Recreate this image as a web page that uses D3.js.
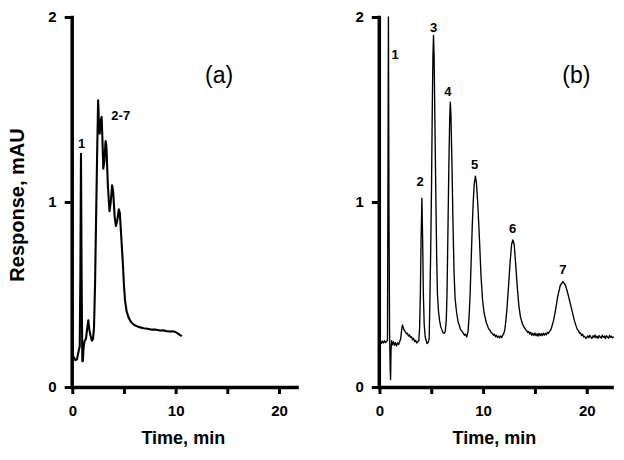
<!DOCTYPE html>
<html><head><meta charset="utf-8">
<script src="https://cdn.jsdelivr.net/npm/d3@7"></script>
<style>body{margin:0;background:#fff} text{font-family:"Liberation Sans",Arial,Helvetica,sans-serif}</style>
</head><body><svg id="c" width="624" height="460"></svg>
<script>
// ---- data ----
const yTicks = [0, 1, 2];
const yTickLabels = ["0", "1", "2"];
const xTicks = [0, 5, 10, 15, 20];
const xTickLabels = ["0", "", "10", "", "20"];
const xTitle = "Time, min";
const yTitle = "Response, mAU";
const panelTags = ["(a)", "(b)"];

// panel (a) chromatogram [time min, response mAU]
const traceA = [
 [0.02,0.17],[0.15,0.16],[0.3,0.145],[0.45,0.15],[0.6,0.19],[0.72,0.22],[0.78,0.6],[0.84,1.26],[0.9,0.6],
 [0.97,0.14],[1.02,0.14],[1.1,0.22],[1.2,0.25],[1.32,0.26],[1.45,0.32],[1.55,0.36],[1.65,0.31],[1.75,0.28],
 [1.9,0.25],[2.0,0.26],[2.1,0.32],[2.2,0.55],[2.3,0.9],[2.4,1.25],[2.5,1.55],[2.58,1.42],[2.65,1.37],
 [2.75,1.44],[2.84,1.46],[2.92,1.33],[3.0,1.18],[3.1,1.22],[3.22,1.33],[3.3,1.3],[3.45,1.08],[3.6,0.95],
 [3.72,1.0],[3.85,1.09],[3.95,1.06],[4.1,0.92],[4.22,0.87],[4.35,0.9],[4.5,0.96],[4.6,0.94],[4.75,0.8],
 [4.9,0.66],[5.0,0.55],[5.1,0.47],[5.25,0.41],[5.45,0.375],[5.7,0.35],[6.0,0.335],[6.4,0.325],[6.9,0.318],
 [7.3,0.315],[7.7,0.31],[8.1,0.31],[8.5,0.305],[8.8,0.306],[9.1,0.302],[9.4,0.3],[9.7,0.301],[10.0,0.297],
 [10.2,0.29],[10.4,0.282],[10.6,0.275]
];

// panel (b) chromatogram [time min, response mAU]
const traceB = [
 [0.0,0.24],[0.1,0.25],[0.2,0.235],[0.3,0.248],[0.4,0.238],[0.5,0.25],[0.6,0.24],[0.7,0.247],[0.78,0.25],
 [0.83,1.2],[0.87,2.0],[0.92,1.0],[0.98,0.3],[1.04,0.1],[1.08,0.04],[1.12,0.2],[1.18,0.25],[1.25,0.228],
 [1.35,0.245],[1.45,0.225],[1.55,0.24],[1.65,0.222],[1.75,0.238],[1.85,0.23],[1.95,0.245],[2.05,0.26],
 [2.15,0.31],[2.22,0.335],[2.3,0.32],[2.4,0.305],[2.5,0.3],[2.6,0.288],[2.7,0.29],[2.8,0.275],[2.9,0.282],
 [3.0,0.268],[3.1,0.272],[3.2,0.255],[3.3,0.262],[3.4,0.245],[3.5,0.252],[3.6,0.238],[3.7,0.245],[3.8,0.25],
 [3.88,0.32],[3.95,0.5],[4.02,0.8],[4.1,1.02],[4.17,0.8],[4.24,0.5],[4.32,0.34],[4.42,0.27],[4.52,0.25],
 [4.6,0.235],[4.7,0.24],[4.8,0.26],[4.87,0.47],[4.95,0.75],[5.02,1.05],[5.1,1.5],[5.16,1.78],[5.22,1.9],
 [5.28,1.78],[5.35,1.45],[5.45,1.01],[5.52,0.72],[5.6,0.5],[5.7,0.41],[5.8,0.36],[5.92,0.325],[6.05,0.305],
 [6.15,0.292],[6.25,0.29],[6.35,0.3],[6.45,0.36],[6.52,0.5],[6.6,0.8],[6.7,1.2],[6.78,1.45],[6.84,1.54],
 [6.9,1.47],[7.0,1.2],[7.1,0.88],[7.2,0.62],[7.3,0.48],[7.45,0.4],[7.6,0.35],[7.7,0.335],[7.8,0.315],
 [7.9,0.305],[8.0,0.3],[8.1,0.29],[8.2,0.28],[8.3,0.285],[8.42,0.27],[8.55,0.3],[8.65,0.38],[8.75,0.5],
 [8.85,0.68],[8.95,0.86],[9.05,1.0],[9.15,1.1],[9.26,1.14],[9.36,1.1],[9.5,0.98],[9.65,0.8],[9.8,0.6],
 [9.95,0.47],[10.1,0.4],[10.3,0.35],[10.5,0.32],[10.6,0.31],[10.7,0.305],[10.8,0.292],[10.9,0.29],
 [11.0,0.28],[11.1,0.285],[11.2,0.272],[11.3,0.28],[11.4,0.268],[11.5,0.275],[11.6,0.265],[11.7,0.276],
 [11.8,0.268],[11.9,0.28],[12.0,0.29],[12.1,0.31],[12.2,0.36],[12.3,0.42],[12.45,0.54],[12.6,0.67],
 [12.75,0.77],[12.87,0.795],[13.0,0.77],[13.15,0.66],[13.3,0.54],[13.45,0.44],[13.6,0.38],[13.8,0.34],
 [14.0,0.32],[14.1,0.31],[14.2,0.305],[14.3,0.295],[14.4,0.3],[14.5,0.286],[14.6,0.295],[14.7,0.28],
 [14.8,0.29],[14.9,0.278],[15.0,0.292],[15.1,0.278],[15.2,0.288],[15.3,0.275],[15.4,0.29],[15.5,0.277],
 [15.6,0.288],[15.7,0.278],[15.8,0.291],[15.9,0.28],[16.0,0.29],[16.1,0.282],[16.2,0.295],[16.3,0.29],
 [16.4,0.3],[16.5,0.305],[16.6,0.32],[16.8,0.36],[17.0,0.42],[17.2,0.49],[17.45,0.55],[17.7,0.57],
 [17.95,0.55],[18.2,0.5],[18.5,0.43],[18.8,0.36],[19.0,0.325],[19.1,0.31],[19.2,0.305],[19.3,0.29],
 [19.4,0.292],[19.5,0.278],[19.6,0.285],[19.7,0.27],[19.8,0.274],[19.9,0.262],[20.0,0.268],[20.1,0.276],
 [20.2,0.266],[20.3,0.279],[20.4,0.27],[20.5,0.262],[20.6,0.277],[20.7,0.268],[20.8,0.281],[20.9,0.266],
 [21.0,0.274],[21.1,0.263],[21.2,0.278],[21.3,0.27],[21.4,0.265],[21.5,0.28],[21.6,0.268],[21.7,0.275],
 [21.8,0.262],[21.9,0.277],[22.0,0.27],[22.1,0.264],[22.2,0.279],[22.3,0.268],[22.4,0.274],[22.5,0.266],
 [22.6,0.272]
];

// peak annotations: text, time (min), level (mAU)
const peakTextA = ["1", "2-7"];
const peakTimeA = [0.91, 4.69];
const peakLevelA = [1.317, 1.47];
const peakTextB = ["1", "2", "3", "4", "5", "6", "7"];
const peakTimeB = [1.51, 3.92, 5.22, 6.6, 9.18, 12.85, 17.69];
const peakLevelB = [1.80, 1.11, 1.944, 1.60, 1.205, 0.858, 0.636];
const tagTime = [14.2, 19.0];
const tagLevel = [1.686, 1.686];

// ---- drawing ----
const svg = d3.select("#c");
const y = d3.scaleLinear().domain([0, 2]).range([387, 17]);

const panels = [
  {x: d3.scaleLinear().domain([0, 21.87]).range([72.3, 298.3]), trace: traceA, sw: 2.1,
   pt: peakTextA, pT: peakTimeA, pL: peakLevelA, tag: panelTags[0], tT: tagTime[0], tL: tagLevel[0]},
  {x: d3.scaleLinear().domain([0, 22.56]).range([379.4, 613.3]), trace: traceB, sw: 1.35,
   pt: peakTextB, pT: peakTimeB, pL: peakLevelB, tag: panelTags[1], tT: tagTime[1], tL: tagLevel[1]}
];

panels.forEach(p => {
  const g = svg.append("g");
  // trace
  g.append("path").datum(p.trace)
    .attr("fill", "none").attr("stroke", "#000").attr("stroke-width", p.sw)
    .attr("stroke-linejoin", "round")
    .attr("d", d3.line().x(d => p.x(d[0])).y(d => y(d[1])));

  // x axis
  const gx = g.append("g").attr("transform", `translate(0,${y(0)})`)
    .call(d3.axisBottom(p.x).tickValues(xTicks).tickFormat((d, i) => xTickLabels[i])
      .tickSize(7).tickPadding(11).tickSizeOuter(0));
  gx.select(".domain").attr("stroke", "#000").attr("stroke-width", 3.5);
  gx.selectAll(".tick line").attr("stroke", "#000").attr("stroke-width", 3);
  gx.selectAll(".tick text").attr("font-size", 15).attr("font-weight", "bold").attr("fill", "#000")
    .style("font-family", '"Liberation Sans",Arial,sans-serif');

  // y axis
  const gy = g.append("g").attr("transform", `translate(${p.x(0) - 0.6},0)`)
    .call(d3.axisLeft(y).tickValues(yTicks).tickFormat((d, i) => yTickLabels[i])
      .tickSize(7).tickPadding(8).tickSizeOuter(0));
  gy.select(".domain").attr("stroke", "#000").attr("stroke-width", 3.5).attr("stroke-linecap", "square");
  gy.selectAll(".tick line").attr("stroke", "#000").attr("stroke-width", 3);
  gy.selectAll(".tick text").attr("font-size", 15).attr("font-weight", "bold").attr("fill", "#000")
    .style("font-family", '"Liberation Sans",Arial,sans-serif');

  // x title
  const [r0, r1] = p.x.range();
  g.append("text").attr("x", (r0 + r1) / 2 - 2).attr("y", 444)
    .attr("text-anchor", "middle").attr("font-size", 18).attr("font-weight", "bold")
    .text(xTitle);

  // peak labels
  p.pt.forEach((t, i) => {
    g.append("text").attr("x", p.x(p.pT[i])).attr("y", y(p.pL[i]))
      .attr("dy", "0.36em").attr("text-anchor", "middle")
      .attr("font-size", 13).attr("font-weight", "bold").text(t);
  });

  // panel tag
  g.append("text").attr("x", p.x(p.tT)).attr("y", y(p.tL)).attr("dy", "0.36em")
    .attr("text-anchor", "middle").attr("font-size", 23).text(p.tag);
});

// y title
svg.append("text").attr("transform", "translate(24,205) rotate(-90)")
  .attr("text-anchor", "middle").attr("font-size", 20).attr("font-weight", "bold")
  .text(yTitle);
</script></body></html>
